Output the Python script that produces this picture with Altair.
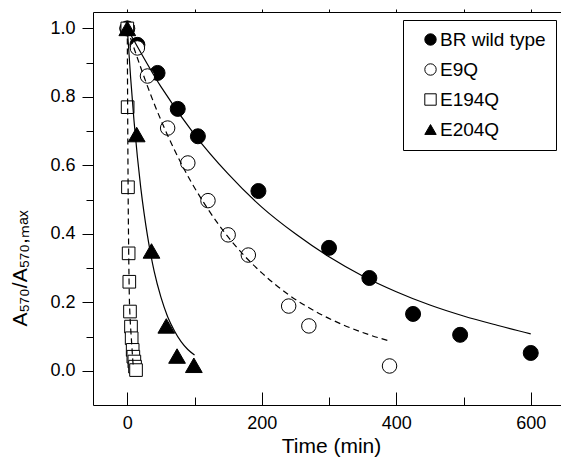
import altair as alt
import pandas as pd

FONT = "Liberation Sans"

series_names = ["BR wild type", "E9Q", "E194Q", "E204Q"]
series_shapes = ["circle", "circle", "square", "triangle-up"]
series_fills = ["black", "white", "white", "black"]
series_strokes = ["black", "black", "black", "black"]
series_sizes = [225, 210, 160, 280]

# measured points
br_t = [0, 15, 45, 75, 105, 195, 300, 360, 425, 495, 600]
br_v = [1.0, 0.952, 0.87, 0.765, 0.685, 0.525, 0.359, 0.271, 0.166, 0.105, 0.052]
e9q_t = [0, 15, 30, 60, 90, 120, 150, 180, 240, 270, 390]
e9q_v = [1.0, 0.943, 0.861, 0.709, 0.607, 0.497, 0.397, 0.338, 0.189, 0.131, 0.014]
e194q_t = [0, 0.5, 1, 2, 3, 4, 5.5, 6.5, 8, 9, 10.5, 11.5, 13]
e194q_v = [1.0, 0.77, 0.536, 0.343, 0.26, 0.173, 0.129, 0.095, 0.061, 0.041, 0.027, 0.012, 0.002]
e204q_t = [0, 14, 36, 58, 74, 99]
e204q_v = [1.0, 0.69, 0.35, 0.131, 0.043, 0.016]

# fitted curves
br_fit_t = [0, 50, 100, 150, 200, 250, 300, 350, 400, 450, 500, 550, 600]
br_fit_v = [1.0, 0.83, 0.69, 0.575, 0.478, 0.40, 0.333, 0.277, 0.231, 0.192, 0.16, 0.133, 0.108]
e9q_fit_t = [0, 40, 80, 120, 160, 200, 240, 280, 320, 360, 390]
e9q_fit_v = [1.0, 0.78, 0.606, 0.472, 0.367, 0.286, 0.222, 0.173, 0.135, 0.105, 0.087]
e194q_fit_t = [0, 0.5, 1, 1.5, 2, 3, 4, 5, 6, 7, 8, 9]
e194q_fit_v = [1.0, 0.78, 0.6, 0.46, 0.36, 0.22, 0.16, 0.125, 0.095, 0.065, 0.035, 0.012]
e204q_fit_t = [0, 5, 10, 15, 20, 25, 30, 40, 50, 60, 70, 80, 90, 100]
e204q_fit_v = [1.0, 0.855, 0.73, 0.625, 0.535, 0.46, 0.395, 0.29, 0.215, 0.158, 0.117, 0.085, 0.062, 0.046]

x_ticks_all = [0, 100, 200, 300, 400, 500, 600]
x_ticks_labeled = [0, 200, 400, 600]
y_ticks = [0.0, 0.1, 0.2, 0.3, 0.4, 0.5, 0.6, 0.7, 0.8, 0.9, 1.0]

def frame(name, ts, vs):
    return pd.DataFrame({"series": name, "t": ts, "v": vs})

point_frames = [
    frame("BR wild type", br_t, br_v),
    frame("E9Q", e9q_t, e9q_v),
    frame("E194Q", e194q_t, e194q_v),
    frame("E204Q", e204q_t, e204q_v),
]

solid = pd.concat([
    frame("BR wild type", br_fit_t, br_fit_v),
    frame("E204Q", e204q_fit_t, e204q_fit_v),
], ignore_index=True)
dashed = pd.concat([
    frame("E9Q", e9q_fit_t, e9q_fit_v),
    frame("E194Q", e194q_fit_t, e194q_fit_v),
], ignore_index=True)

W, H = 468, 393
xscale = alt.Scale(domain=[-51, 645], nice=False, zero=False)
yscale = alt.Scale(domain=[-0.1, 1.048], nice=False, zero=False)

common = dict(grid=False, domainColor="black", tickColor="black", labelColor="black",
              titleColor="black", labelFont=FONT, titleFont=FONT, titleFontWeight="normal",
              labelFontWeight="normal")

x_axis_bottom = alt.Axis(values=x_ticks_labeled, ticks=False, labelFontSize=18,
                         labelBaseline="alphabetic", labelPadding=23, format="d",
                         title="Time (min)", titleFontSize=21, titleX=238, titleY=47,
                         titleAlign="center", titleBaseline="alphabetic",
                         domainWidth=1, **common)
x_axis_inner = alt.Axis(orient="top", offset=-H, values=x_ticks_all, labels=False,
                        domain=False, title=None,
                        tickSize={"condition": {"test": "datum.value % 200 === 0", "value": 13}, "value": 8},
                        **common)
x_axis_top = alt.Axis(orient="top", values=x_ticks_all, labels=False, domain=True,
                      tickSize=3, title=None, **common)

y_axis = alt.Axis(values=y_ticks,
                  tickSize={"condition": {"test": "round(datum.value * 10) % 2 === 0", "value": 11}, "value": 7},
                  labelExpr="round(datum.value * 10) % 2 === 0 ? format(datum.value, '.1f') : ''",
                  labelFontSize=18, labelPadding=7,
                  title="A₅₇₀/A₅₇₀,ₘₐₓ", titleFontSize=21, titleX=-73, titleY=256,
                  titleAngle=270, titleAlign="center", titleBaseline="middle",
                  **common)

legend = alt.Legend(title=None, orient="none", legendX=310, legendY=8, padding=10,
                    strokeColor="black", fillColor="white", symbolOffset=8,
                    labelFontSize=19, labelFont=FONT, labelColor="black", rowPadding=10,
                    symbolSize=130, symbolStrokeColor="black", symbolStrokeWidth=1,
                    labelOffset=0, labelLimit=300, cornerRadius=0)

shape_scale = alt.Scale(domain=series_names, range=series_shapes)
fill_scale = alt.Scale(domain=series_names, range=series_fills)
stroke_scale = alt.Scale(domain=series_names, range=series_strokes)

point_layers = []
for i, df in enumerate(point_frames):
    first = i == 0
    point_layers.append(
        alt.Chart(df).mark_point(filled=True, strokeWidth=1, opacity=1,
                                 size=series_sizes[i]).encode(
            x=alt.X("t:Q", scale=xscale, axis=x_axis_bottom if first else None),
            y=alt.Y("v:Q", scale=yscale, axis=y_axis if first else None),
            shape=alt.Shape("series:N", scale=shape_scale, legend=legend),
            fill=alt.Fill("series:N", scale=fill_scale, legend=legend),
            stroke=alt.Stroke("series:N", scale=stroke_scale, legend=legend),
        )
    )

solid_lines = alt.Chart(solid).mark_line(color="black", strokeWidth=1.2, interpolate="monotone").encode(
    x=alt.X("t:Q", scale=xscale, axis=x_axis_inner),
    y=alt.Y("v:Q", scale=yscale, axis=None),
    detail="series:N",
)

dashed_lines = alt.Chart(dashed).mark_line(color="black", strokeWidth=1.2, strokeDash=[6, 4],
                                           interpolate="monotone").encode(
    x=alt.X("t:Q", scale=xscale, axis=x_axis_top),
    y=alt.Y("v:Q", scale=yscale, axis=None),
    detail="series:N",
)

chart = alt.layer(*point_layers, solid_lines, dashed_lines).resolve_axis(
    x="independent", y="independent"
).properties(
    width=W, height=H,
    autosize=alt.AutoSizeParams(type="none"),
    padding={"left": 93, "top": 12, "right": 0, "bottom": 57},
    background="white",
).configure_view(stroke=None)

chart.save("out.html", embed_options={"renderer": "svg", "actions": False})
